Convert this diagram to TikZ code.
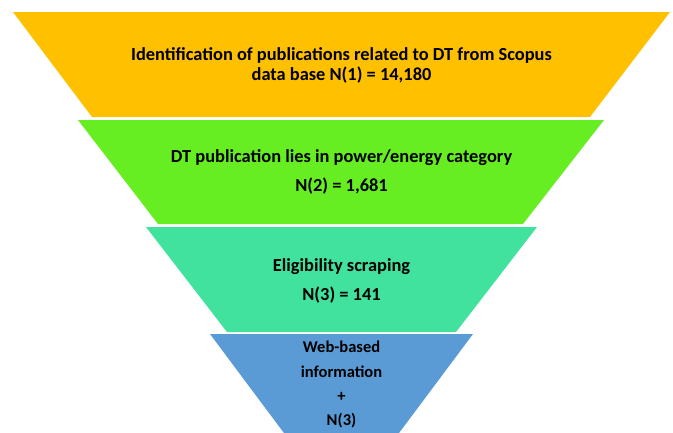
\documentclass[tikz,border=0pt]{standalone}
\usepackage{fontspec}
\setmainfont{Carlito}
\definecolor{cyellow}{HTML}{FFC000}
\definecolor{cgreen}{HTML}{66EE22}
\definecolor{cteal}{HTML}{41E29E}
\definecolor{cblue}{HTML}{5B9BD5}
\begin{document}
\begin{tikzpicture}[x=1pt,y=-1pt,
  lbl/.style={font=\bfseries\fontsize{18.4}{22}\selectfont, text=black, inner sep=0pt, align=center},
  sml/.style={lbl, font=\bfseries\fontsize{16.5}{20}\selectfont}]
\clip (0,0) rectangle (673,432);
\fill[white] (0,0) rectangle (673,432);
% stages
\fill[cyellow] (13,12) -- (670,12) -- (590,117) -- (92,117) -- cycle;
\fill[cgreen] (78,120) -- (604,120) -- (523,224) -- (158,224) -- cycle;
\fill[cteal] (146,227) -- (537,227) -- (456,332) -- (227,332) -- cycle;
\fill[cblue] (210,334) -- (473,334) -- (341.5,510) -- cycle;
% labels
\node[lbl] (t1a) at (341.5,55) {Identification of publications related to DT from Scopus};
\node[lbl] (t1b) at (341.5,75) {data base N(1) = 14,180};
\node[lbl] (t2a) at (341.5,158) {DT publication lies in power/energy category};
\node[lbl] (t2b) at (341.5,186) {N(2) = 1,681};
\node[lbl] (t3a) at (341.5,267) {Eligibility scraping};
\node[lbl] (t3b) at (341.5,295) {N(3) = 141};
\node[sml] (t4a) at (341.5,347) {Web-based};
\node[sml] (t4b) at (341.5,372) {information};
\node[sml] (t4c) at (341.5,397) {+};
\node[sml] (t4d) at (341.5,421) {N(3)};
\end{tikzpicture}
\end{document}
